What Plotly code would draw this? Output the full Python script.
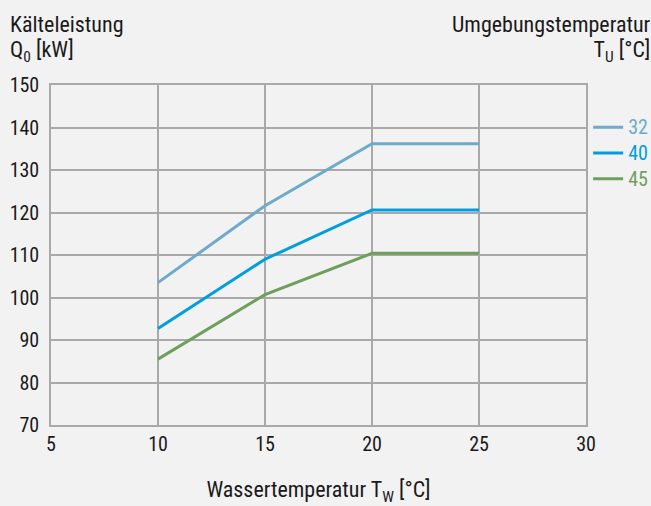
import plotly.graph_objects as go

x_vals = [10, 15, 20, 25]
series_names = ["32", "40", "45"]
y_32 = [103.5, 121.6, 136.2, 136.2]
y_40 = [92.7, 109.0, 120.6, 120.6]
y_45 = [85.5, 100.7, 110.4, 110.4]
colors = ["#6eaacb", "#009ee0", "#6f9f5c"]
x_ticks = [5, 10, 15, 20, 25, 30]
y_ticks = [70, 80, 90, 100, 110, 120, 130, 140, 150]

FONT = "Liberation Sans Narrow, Roboto Condensed, Roboto, sans-serif"
TITLE_SIZE = 22


def big(s):
    return f"<span style='font-size:{TITLE_SIZE}px'>{s}</span>"


fig = go.Figure()
for name, ys, c in zip(series_names, [y_32, y_40, y_45], colors):
    fig.add_trace(go.Scatter(
        x=x_vals, y=ys, mode="lines",
        name=f"<span style='color:{c};font-size:20px'>{name}</span>",
        line=dict(color=c, width=3),
    ))

grid = "#a9a9a9"
fig.update_layout(
    width=651, height=506,
    paper_bgcolor="#f2f2f2", plot_bgcolor="#f2f2f2",
    margin=dict(l=51, r=65, t=85, b=81, autoexpand=False),
    font=dict(family=FONT, size=20, color="#1a1a1a"),
    showlegend=True,
    legend=dict(x=1.004, y=0.928, xanchor="left", yanchor="top",
                bgcolor="rgba(0,0,0,0)", font=dict(size=17.5),
                itemwidth=30, tracegroupgap=0),
    xaxis=dict(range=[5, 30], tickvals=x_ticks, showgrid=True,
               gridcolor=grid, gridwidth=1.5, showline=True, linecolor=grid,
               linewidth=1.5, mirror=True, zeroline=False, ticks="",
               ticklabelstandoff=0, automargin=False,
               title=dict(text="Wassertemperatur T<sub>W</sub> [°C]", standoff=28,
                          font=dict(family=FONT, size=TITLE_SIZE))),
    yaxis=dict(range=[70, 150], tickvals=y_ticks, showgrid=True,
               gridcolor=grid, gridwidth=1.5, showline=True, linecolor=grid,
               linewidth=1.5, mirror=True, zeroline=False, ticks="",
               ticklabelstandoff=6, automargin=False),
    annotations=[
        dict(text=big("Kälteleistung") + "<br>" + big("Q<sub>0</sub> [kW]"),
             xref="paper", yref="paper", x=-0.0804, y=1.222,
             xanchor="left", yanchor="top", showarrow=False, align="left",
             font=dict(family=FONT, size=19.2)),
        dict(text=big("Umgebungstemperatur") + "<br>" + big("T<sub>U</sub> [°C]"),
             xref="paper", yref="paper", x=1.1243, y=1.222,
             xanchor="right", yanchor="top", showarrow=False, align="right",
             font=dict(family=FONT, size=19.2)),
    ],
)
fig.write_html(
    "out.html",
    config={"displayModeBar": False},
    post_script="document.body.style.margin='0';document.body.style.background='#f2f2f2';",
)
